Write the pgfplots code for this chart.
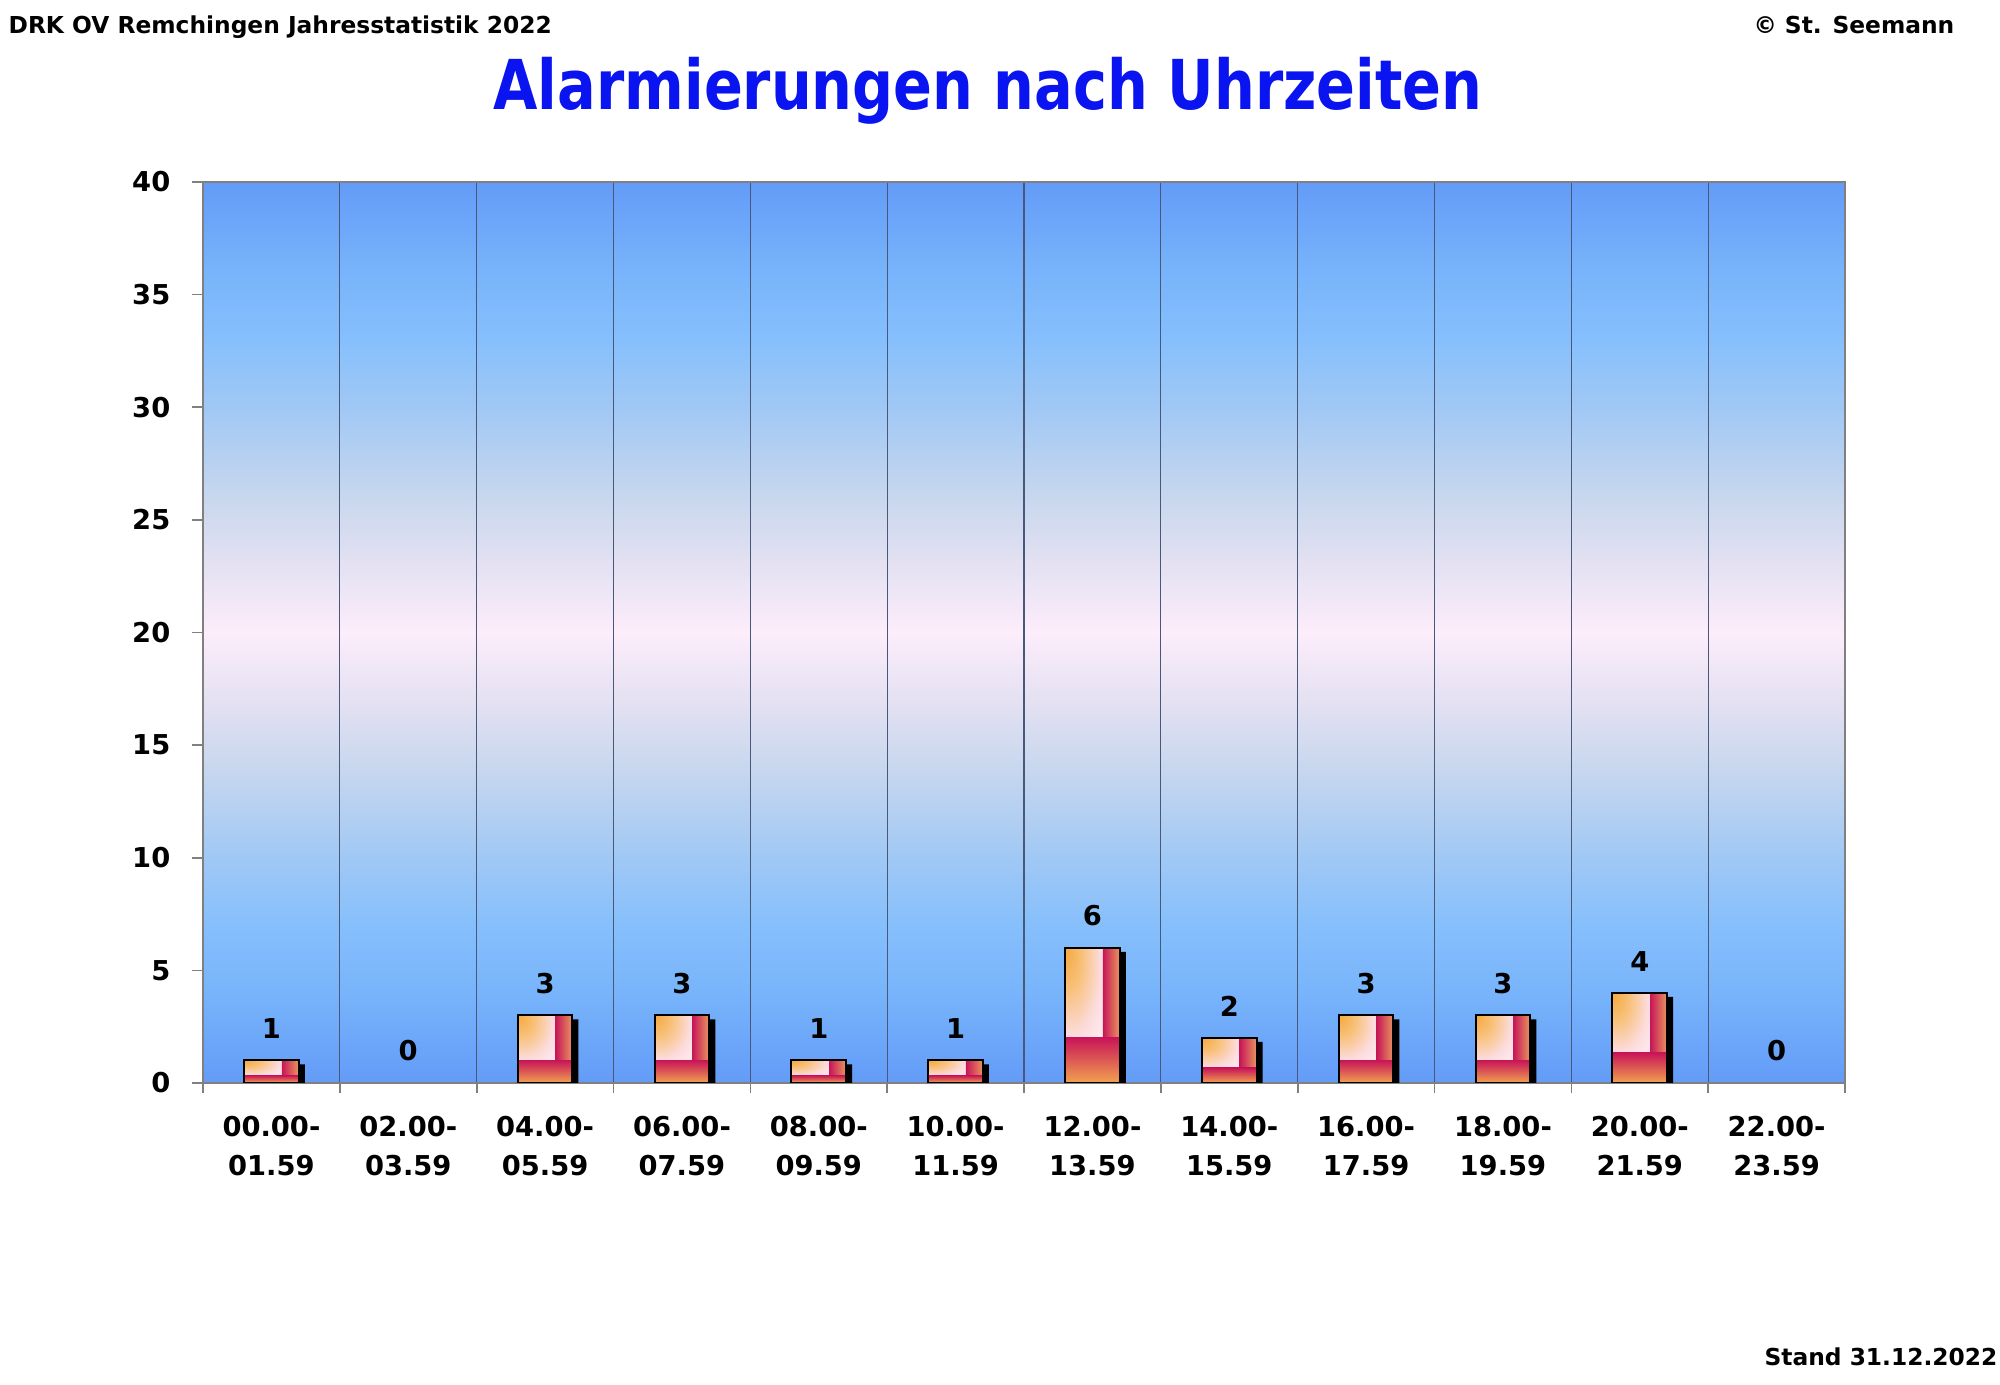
\documentclass[border=0pt]{standalone}
\usepackage{fontspec}
\setmainfont{DejaVu Sans}
\usepackage{graphicx}
\usepackage{pgfplots}
\pgfplotsset{compat=1.18}
\usepackage{pgfplotstable}

\definecolor{bgA}{RGB}{99,155,247}
\definecolor{bgB}{RGB}{120,180,251}
\definecolor{bgC}{RGB}{134,191,252}
\definecolor{bgD}{RGB}{160,200,245}
\definecolor{bgE}{RGB}{200,215,238}
\definecolor{bgF}{RGB}{228,225,242}
\definecolor{bgG}{RGB}{253,237,250}
\definecolor{axisgray}{RGB}{128,128,128}
\definecolor{gridc}{RGB}{72,88,120}
\definecolor{titleblue}{RGB}{10,20,240}
\definecolor{barOr}{RGB}{245,168,62}
\definecolor{barOr2}{RGB}{248,192,120}
\definecolor{barPk}{RGB}{252,220,222}
\definecolor{barPk2}{RGB}{254,236,240}
\definecolor{crim}{RGB}{200,22,88}
\definecolor{edgeOr}{RGB}{232,150,95}
\definecolor{botOr}{RGB}{242,162,80}

\pgfdeclareverticalshading{bgshade}{100bp}{%
color(0bp)=(bgA); color(25bp)=(bgA); color(30bp)=(bgB); color(33.75bp)=(bgC);
color(37.5bp)=(bgD); color(42.5bp)=(bgE); color(46.25bp)=(bgF); color(50bp)=(bgG);
color(53.75bp)=(bgF); color(57.5bp)=(bgE); color(62.5bp)=(bgD); color(66.25bp)=(bgC);
color(70bp)=(bgB); color(75bp)=(bgA); color(100bp)=(bgA)}

\pgfdeclareradialshading{innershade}{\pgfpoint{-25bp}{25bp}}{%
color(0bp)=(barOr); color(12bp)=(barOr2); color(26bp)=(barPk); color(35bp)=(barPk2); color(100bp)=(barPk2)}

\newcommand{\tickfont}{\fontsize{8.2bp}{11.8bp}\selectfont\bfseries}
\newcommand{\hdrfont}{\fontsize{7bp}{8bp}\selectfont\bfseries}

\pgfplotstableread{
x v
0.5 1
1.5 0
2.5 3
3.5 3
4.5 1
5.5 1
6.5 6
7.5 2
8.5 3
9.5 3
10.5 4
11.5 0
}\datatable

\begin{document}
\begin{tikzpicture}
\useasboundingbox (0,0) rectangle (600bp,415.5bp);
\begin{axis}[
  at={(60.9bp,90.6bp)}, anchor=south west,
  scale only axis, width=492.6bp, height=270.3bp,
  xmin=0, xmax=12, ymin=0, ymax=40,
  axis background/.style={shade, shading=bgshade},
  axis line style={draw=axisgray, line width=0.5bp},
  xtick={0.5,1.5,...,11.5},
  xticklabels={{00.00-\\01.59},{02.00-\\03.59},{04.00-\\05.59},{06.00-\\07.59},{08.00-\\09.59},{10.00-\\11.59},{12.00-\\13.59},{14.00-\\15.59},{16.00-\\17.59},{18.00-\\19.59},{20.00-\\21.59},{22.00-\\23.59}},
  minor xtick={0,1,...,12},
  xminorgrids, minor x grid style={draw=gridc, line width=0.35bp},
  xtick pos=bottom, ytick pos=left, tick align=outside,
  ytick={0,5,...,40},
  major tick length=3.3bp, minor tick length=3bp,
  tick style={draw=axisgray, line width=0.5bp},
  major x tick style={draw=none},
  xticklabel style={align=center, font=\tickfont, yshift=-3bp},
  yticklabel style={font=\tickfont, xshift=-3bp},
  /pgf/number format/assume math mode=true,
]
% shadow
\addplot[ybar, bar width=0.4, bar shift=0.044, yshift=-1.2bp, fill=black, draw=none] table[x=x,y=v]{\datatable};
\pgfplotsinvokeforeach{0,1,2,3,4,5,6,7,8,9,10,11}{
  % base with inner gradient
  \addplot[ybar, bar width=0.4, bar shift=0, draw=none, shade, shading=innershade,
    restrict x to domain=#1.2:#1.8, restrict y to domain=0.5:100] table[x=x,y=v]{\datatable};
  % right strip
  \addplot[ybar, bar width=0.124, bar shift=0.138, draw=none, left color=crim, right color=edgeOr,
    restrict x to domain=#1.2:#1.8, restrict y to domain=0.5:100] table[x=x,y=v]{\datatable};
  % bottom strip
  \addplot[ybar, bar width=0.4, bar shift=0, draw=none, top color=crim, bottom color=botOr,
    restrict x to domain=#1.2:#1.8, restrict y to domain=0.1:100] table[x=x,y expr=\thisrow{v}/3]{\datatable};
}
% outline
\addplot[ybar, bar width=0.4, bar shift=0, draw=black, line width=0.6bp, fill=none, restrict y to domain=0.5:100] table[x=x,y=v]{\datatable};
% labels
\addplot[ybar, bar width=0.4, bar shift=0, draw=none, fill=none,
  nodes near coords, nodes near coords style={font=\tickfont, anchor=south, inner sep=0pt, yshift=6.3bp}] table[x=x,y=v]{\datatable};
\end{axis}
\node[anchor=base west, font=\hdrfont, inner sep=0pt] at (2.4bp,405.3bp) {DRK OV Remchingen Jahresstatistik 2022};
\node[anchor=base east, font=\hdrfont, inner sep=0pt] at (586.5bp,405.3bp) {© St. Seemann};
\node[anchor=base east, font=\hdrfont, inner sep=0pt] at (599.4bp,6bp) {Stand 31.12.2022};
\node[anchor=base, font=\fontsize{17.2bp}{20bp}\selectfont\bfseries, text=titleblue, inner sep=0pt] at (296.4bp,382.5bp) {\scalebox{1}[1.2]{Alarmierungen nach Uhrzeiten}};
\end{tikzpicture}
\end{document}
